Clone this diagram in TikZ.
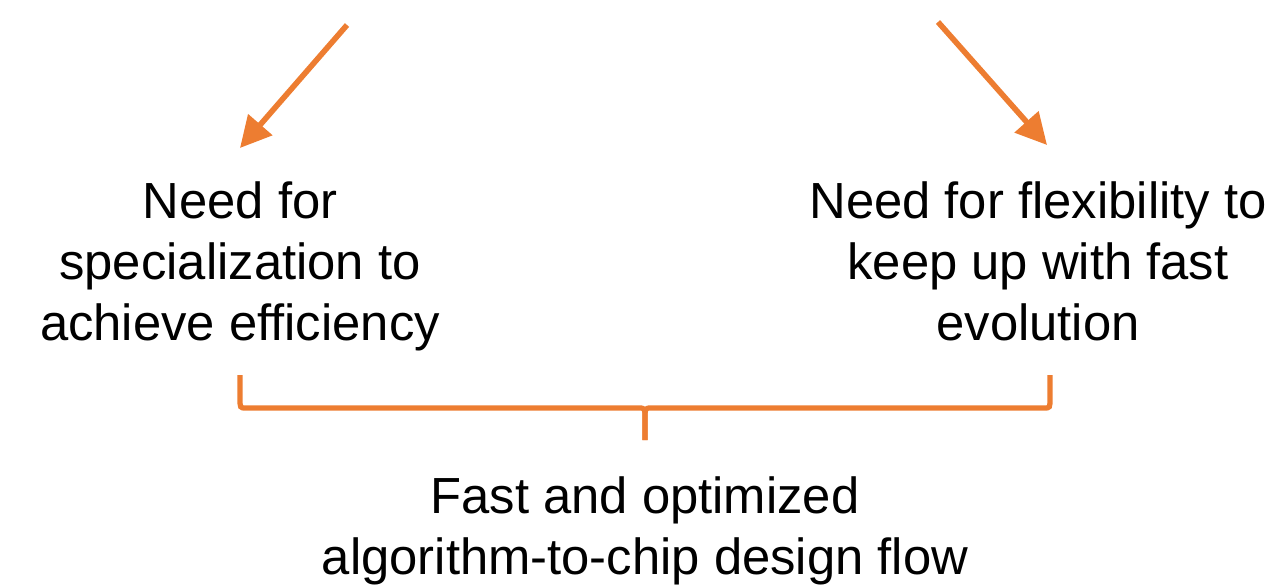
\documentclass[tikz,border=0pt]{standalone}
\usepackage{fontspec}
\setmainfont{Liberation Sans}
\usetikzlibrary{arrows.meta}
\definecolor{orng}{RGB}{237,125,49}
\begin{document}
\begin{tikzpicture}[x=0.02cm,y=-0.02cm,
  txt/.style={align=center,inner sep=0pt,font=\fontsize{28.9}{34.6}\selectfont},
  arr/.style={draw=orng,line width=3.2pt,-{Triangle[length=0.62cm,width=0.62cm]}},
  brace/.style={draw=orng,line width=3.0pt}]
\useasboundingbox (0,0) rectangle (1266,585);
\coordinate (a1s) at (347,25);
\coordinate (a1e) at (240,148);
\coordinate (a2s) at (938,22);
\coordinate (a2e) at (1047,145);
\node[txt,anchor=base] (left) at (240,340) {Need for\\specialization to\\achieve efficiency};
\node[txt,anchor=base] (right) at (1038,340) {Need for flexibility to\\keep up with fast\\evolution};
\node[txt,anchor=base] (bottom) at (645,574) {Fast and optimized\\algorithm-to-chip design flow};
\draw[arr] (a1s) -- (a1e);
\draw[arr] (a2s) -- (a2e);
\coordinate (bl) at (240,375);
\coordinate (br) at (1050,375);
\coordinate (bm) at (645,440);
\draw[brace] (bl) -- (240,398) .. controls (240,408) .. (246,408) -- (638,408)
  .. controls (645,408) .. (645,418) -- (bm);
\draw[brace] (bm) -- (645,418) .. controls (645,408) .. (652,408) -- (1044,408)
  .. controls (1050,408) .. (1050,398) -- (br);
\end{tikzpicture}
\end{document}
